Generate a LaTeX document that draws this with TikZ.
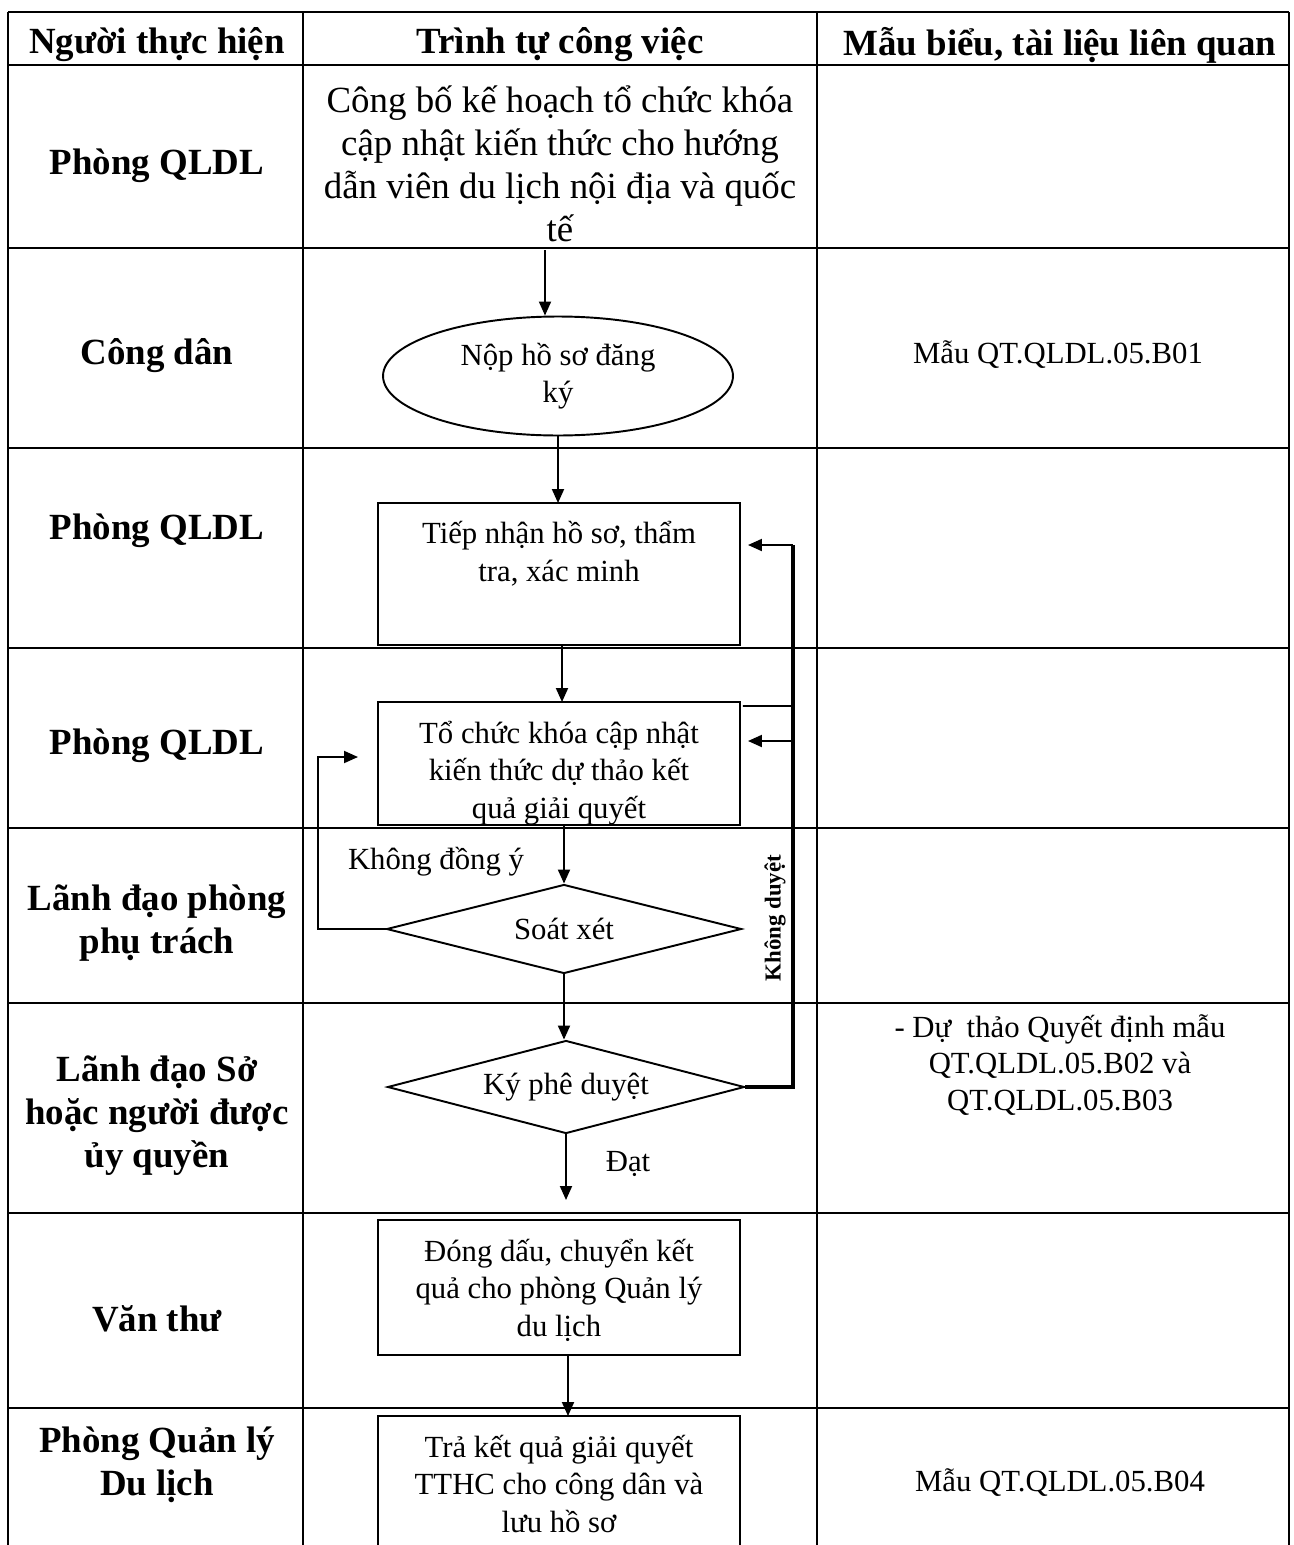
\documentclass[tikz,border=0pt]{standalone}
\usepackage{fontspec}
\setmainfont{Liberation Serif}
\usepackage{tikz}
\usetikzlibrary{arrows.meta,positioning,shapes.geometric}

\newcommand{\hdsize}{\fontsize{21}{24.5}\selectfont}
\newcommand{\bxsize}{\fontsize{17.5}{21.3}\selectfont}
\newcommand{\docsize}{\fontsize{17.5}{20.7}\selectfont}

\begin{document}
\begin{tikzpicture}[
    x=0.02cm, y=-0.02cm,
    grid/.style={line width=0.8pt},
    headline/.style={line width=1.3pt},
    lane/.style={font=\hdsize\bfseries, align=center},
    doc/.style={font=\docsize, align=center},
    box/.style={draw, line width=1.4pt, minimum width=7.24cm, inner sep=0pt, outer sep=0pt, align=center, font=\bxsize},
    ell/.style={draw, ellipse, line width=1.1pt, minimum width=7cm, minimum height=2.38cm, inner sep=0pt, align=center, font=\bxsize},
    dia/.style={draw, diamond, aspect=4, line width=1.1pt, inner sep=0pt, font=\bxsize},
    flow/.style={line width=1.1pt},
    backline/.style={line width=1.8pt},
    arr/.style={flow, -{Triangle[length=2.8mm, width=2.4mm]}}
]
    \useasboundingbox (0,0) rectangle (1294,1545);
    \clip (0,0) rectangle (1294,1545);

    % table
    \draw[headline] (8,12) -- (1289,12);
    \draw[headline] (8,65) -- (1289,65);
    \foreach \y in {248,448,648,828,1003,1213,1408}
        \draw[grid] (8,\y) -- (1289,\y);
    \foreach \x in {8,303,817,1289}
        \draw[grid] (\x,12) -- (\x,1560);

    \node[lane] (hd1) at (157,45) {Người thực hiện};
    \node[lane] (hd2) at (560,45) {Trình tự công việc};
    \node[lane] (hd3) at (1060,45) {Mẫu biểu, tài liệu liên quan};

    \node[lane] (who1) at (157,166) {Phòng QLDL};
    \node[lane] (who2) at (157,356) {Công dân};
    \node[lane] (who3) at (157,531) {Phòng QLDL};
    \node[lane] (who4) at (157,746) {Phòng QLDL};
    \node[lane] (who5) at (157,923) {Lãnh đạo phòng\\phụ trách};
    \node[lane] (who6) at (157,1116) {Lãnh đạo Sở\\hoặc người được\\ủy quyền};
    \node[lane] (who7) at (157,1319) {Văn thư};
    \node[lane] (who8) at (157,1465) {Phòng Quản lý\\Du lịch};

    \node[doc] (doc1) at (1058,355) {Mẫu QT.QLDL.05.B01};
    \node[doc] (doc2) at (1060,1065) {- Dự\ \ thảo Quyết định mẫu\\QT.QLDL.05.B02 và\\QT.QLDL.05.B03};
    \node[doc] (doc3) at (1060,1483) {Mẫu QT.QLDL.05.B04};

    % steps
    \node[font=\hdsize, align=center] (announce) at (560,164)
        {Công bố kế hoạch tổ chức khóa\\cập nhật kiến thức cho hướng\\dẫn viên du lịch nội địa và quốc\\tế};
    \node[ell] (apply) at (558,376) {Nộp hồ sơ đăng\\ký};
    \node[box, text height=1.56cm, text depth=1.28cm] (recv) at (559,574) {Tiếp nhận hồ sơ, thẩm\\tra, xác minh};
    \node[box, text height=2.32cm, text depth=0.14cm] (draft) at (559,763.5) {Tổ chức khóa cập nhật\\kiến thức dự thảo kết\\quả giải quyết};
    \node[dia, minimum width=7.1cm, minimum height=1.78cm] (check) at (564,929) {Soát xét};
    \node[dia, minimum width=7.14cm, minimum height=1.86cm] (approve) at (566,1087) {Ký phê duyệt};
    \node[box, text height=2.32cm, text depth=0.38cm] (stamp) at (559,1287.5) {Đóng dấu, chuyển kết\\quả cho phòng Quản lý\\du lịch};
    \node[box, text height=2.32cm, text depth=0.56cm] (result) at (559,1488) {Trả kết quả giải quyết\\TTHC cho công dân và\\lưu hồ sơ};

    \node[font=\bxsize] (disagree) at (436,862) {Không đồng ý};
    \node[font=\bxsize] (pass) at (628,1164) {Đạt};
    \node[rotate=90, font=\fontsize{13}{15}\selectfont\bfseries] (reject) at (775,918) {Không duyệt};

    \coordinate (a0) at (545,250);
    \coordinate (passend) at (566,1200);
    \coordinate (back) at (358,757);
    \coordinate (rtop) at (793,545);
    \coordinate (rmid) at (793,741);

    \draw[arr] (a0) -- (a0 |- apply.north);
    \draw[arr] (apply.south) -- (apply.south |- recv.north);
    \draw[arr] ([xshift=0.06cm]recv.south) -- ([xshift=0.06cm]draft.north);
    \draw[arr] (check.north |- draft.south) -- (check.north);
    \draw[arr] (check.south) -- (check.south |- approve.north);
    \draw[arr] (approve.south) -- (passend);
    \draw[arr] ([xshift=0.18cm]stamp.south) -- ([xshift=0.18cm]result.north);

    \draw[arr] (check.west) -| (318,757) -- (back);

    \draw[backline] (approve.east) -| (rtop);
    \draw[arr] (rtop) -- ([xshift=0.16cm]recv.east |- rtop);
    \draw[arr] (rmid) -- ([xshift=0.16cm]draft.east |- rmid);
    \draw[flow] ([shift={(0.06cm,-0.08cm)}]draft.north east) -- (rtop |- 0,706);
\end{tikzpicture}
\end{document}
